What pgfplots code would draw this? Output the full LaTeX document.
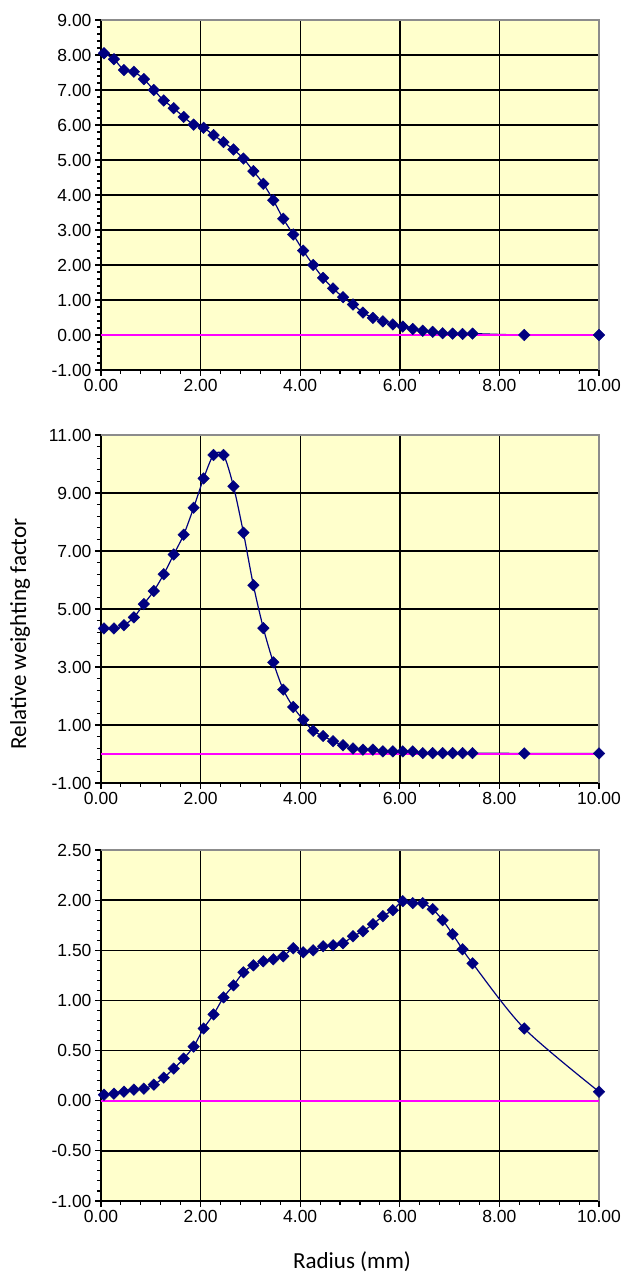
\documentclass[border=0pt]{standalone}
\usepackage{fontspec}
\setmainfont{Liberation Sans}
\newfontfamily\labelfont{Carlito}
\usepackage{pgfplots}
\usepackage{pgfplotstable}
\pgfplotsset{compat=1.18}
\definecolor{bgyellow}{HTML}{FFFFCC}
\definecolor{navy}{HTML}{000080}
\definecolor{mag}{HTML}{FF00FF}
\definecolor{bordergray}{HTML}{8C8C8C}

\pgfplotstableread{
x y
0.06 8.05
0.26 7.88
0.46 7.57
0.66 7.52
0.86 7.31
1.06 7.00
1.26 6.70
1.46 6.48
1.66 6.23
1.86 6.01
2.06 5.92
2.26 5.71
2.46 5.51
2.66 5.30
2.86 5.04
3.06 4.68
3.26 4.32
3.46 3.85
3.66 3.32
3.86 2.87
4.06 2.41
4.26 2.00
4.46 1.63
4.66 1.33
4.86 1.08
5.06 0.87
5.26 0.64
5.46 0.49
5.66 0.39
5.86 0.30
6.06 0.24
6.26 0.17
6.46 0.12
6.66 0.09
6.86 0.05
7.06 0.04
7.26 0.03
7.46 0.04
8.50 0.00
10.00 0.00
}\topdata

\pgfplotstableread{
x y
0.06 4.33
0.26 4.33
0.46 4.44
0.66 4.71
0.86 5.17
1.06 5.62
1.26 6.20
1.46 6.88
1.66 7.56
1.86 8.49
2.06 9.50
2.26 10.31
2.46 10.31
2.66 9.23
2.86 7.63
3.06 5.82
3.26 4.34
3.46 3.16
3.66 2.22
3.86 1.62
4.06 1.18
4.26 0.80
4.46 0.62
4.66 0.44
4.86 0.30
5.06 0.19
5.26 0.15
5.46 0.15
5.66 0.09
5.86 0.09
6.06 0.09
6.26 0.09
6.46 0.03
6.66 0.03
6.86 0.03
7.06 0.03
7.26 0.03
7.46 0.03
8.50 0.02
10.00 0.02
}\middata

\pgfplotstableread{
x y
0.06 0.06
0.26 0.07
0.46 0.09
0.66 0.11
0.86 0.12
1.06 0.16
1.26 0.23
1.46 0.32
1.66 0.42
1.86 0.54
2.06 0.72
2.26 0.86
2.46 1.03
2.66 1.15
2.86 1.28
3.06 1.35
3.26 1.39
3.46 1.41
3.66 1.44
3.86 1.52
4.06 1.48
4.26 1.50
4.46 1.54
4.66 1.55
4.86 1.57
5.06 1.64
5.26 1.69
5.46 1.76
5.66 1.84
5.86 1.90
6.06 1.99
6.26 1.97
6.46 1.97
6.66 1.91
6.86 1.80
7.06 1.66
7.26 1.51
7.46 1.37
8.50 0.72
10.00 0.09
}\botdata

\pgfplotsset{
  panel/.style={
    scale only axis, width=498pt,
    xmin=0, xmax=10, xtick={0,2,...,10},
    axis x line*=bottom, axis y line*=left,
    axis line style={black, line width=1.4pt},
    axis background/.style={fill=bgyellow},
    grid=major, major grid style={black, line width=1.4pt},
    tick align=outside,
    major tick length=6pt, minor tick length=4pt,
    every tick/.style={black, line width=1.1pt},
    minor tick num=4,
    tick label style={font=\fontsize{17.5}{20}\selectfont},
    /pgf/number format/assume math mode=true,
    xticklabel style={/pgf/number format/fixed, /pgf/number format/fixed zerofill, /pgf/number format/precision=2},
    yticklabel style={/pgf/number format/fixed, /pgf/number format/fixed zerofill, /pgf/number format/precision=2},
    clip=false,
  },
  curve/.style={navy, line width=1.2pt, smooth, mark=none},
  dots/.style={only marks, mark=square*, mark size=4.1pt, mark options={rotate=45, draw=navy, fill=navy, solid}},
  zeroline/.style={mag, line width=1.6pt, mark=none},
}

\begin{document}
\begin{tikzpicture}
\path[use as bounding box] (0,0) rectangle (629pt,1276pt);

\begin{axis}[panel, at={(101pt,906pt)}, anchor=south west, height=350pt,
  ymin=-1, ymax=9, ytick={-1,0,...,9}]
  \draw[bordergray, line width=1.5pt] (rel axis cs:0,1) -- (rel axis cs:1,1) -- (rel axis cs:1,0);
  \addplot[curve] table[x=x,y=y] {\topdata};
  \addplot[zeroline] coordinates {(0,0) (10,0)};
  \addplot[dots] table[x=x,y=y] {\topdata};
\end{axis}

\begin{axis}[panel, at={(101pt,493pt)}, anchor=south west, height=348pt,
  ymin=-1, ymax=11, ytick={-1,1,...,11}]
  \draw[bordergray, line width=1.5pt] (rel axis cs:0,1) -- (rel axis cs:1,1) -- (rel axis cs:1,0);
  \addplot[curve] table[x=x,y=y] {\middata};
  \addplot[zeroline] coordinates {(0,0) (10,0)};
  \addplot[dots] table[x=x,y=y] {\middata};
\end{axis}

\begin{axis}[panel, at={(101pt,75pt)}, anchor=south west, height=351pt,
  ymin=-1, ymax=2.5, ytick={-1,-0.5,...,2.5}]
  \draw[bordergray, line width=1.5pt] (rel axis cs:0,1) -- (rel axis cs:1,1) -- (rel axis cs:1,0);
  \addplot[curve] table[x=x,y=y] {\botdata};
  \addplot[zeroline] coordinates {(0,0) (10,0)};
  \addplot[dots] table[x=x,y=y] {\botdata};
\end{axis}

\node[rotate=90, font=\labelfont\fontsize{23}{26}\selectfont] at (20pt,642pt) {Relative weighting factor};
\node[font=\labelfont\fontsize{23}{26}\selectfont] at (352pt,14pt) {Radius (mm)};
\end{tikzpicture}
\end{document}
